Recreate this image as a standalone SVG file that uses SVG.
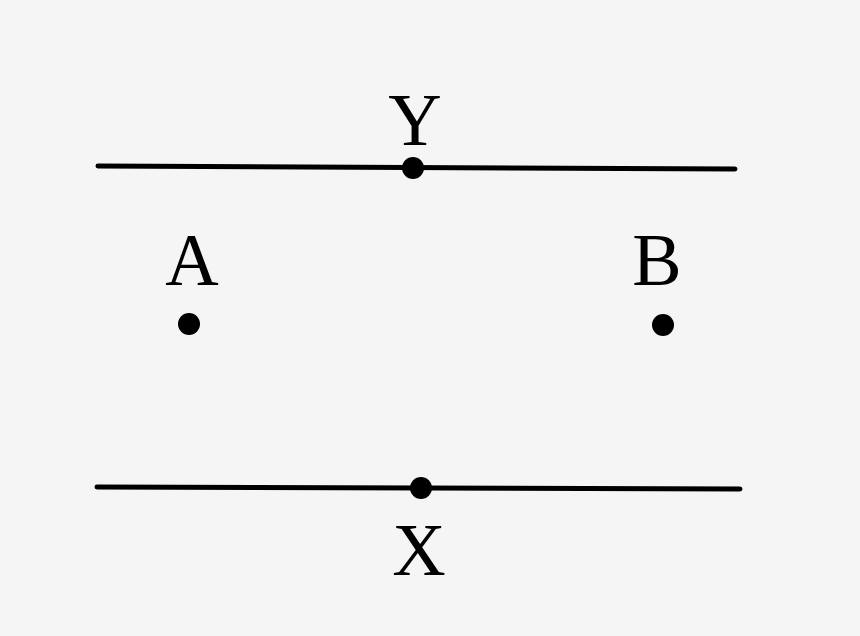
<svg xmlns="http://www.w3.org/2000/svg" width="860" height="636" viewBox="0 0 860 636">
<style>
.ln{stroke:#000;stroke-width:5;stroke-linecap:round;fill:none}
.lbl{font-family:"Liberation Serif","DejaVu Serif",serif;font-size:74px;fill:#000;text-anchor:middle}
.pt{fill:#000}
</style>
<rect width="860" height="636" fill="#f5f5f5"/>
<g id="connectors">
<line class="ln" x1="98" y1="166" x2="735" y2="169"/>
<line class="ln" x1="97" y1="487" x2="740" y2="489"/>
</g>
<g id="Y"><circle class="pt" cx="413" cy="168" r="11"/><text class="lbl" x="415" y="145">Y</text></g>
<g id="X"><circle class="pt" cx="421" cy="488" r="11"/><text class="lbl" x="419" y="575">X</text></g>
<g id="A"><circle class="pt" cx="189" cy="324" r="11"/><text class="lbl" x="192" y="285">A</text></g>
<g id="B"><circle class="pt" cx="663" cy="325" r="11"/><text class="lbl" x="657" y="285">B</text></g>
</svg>
